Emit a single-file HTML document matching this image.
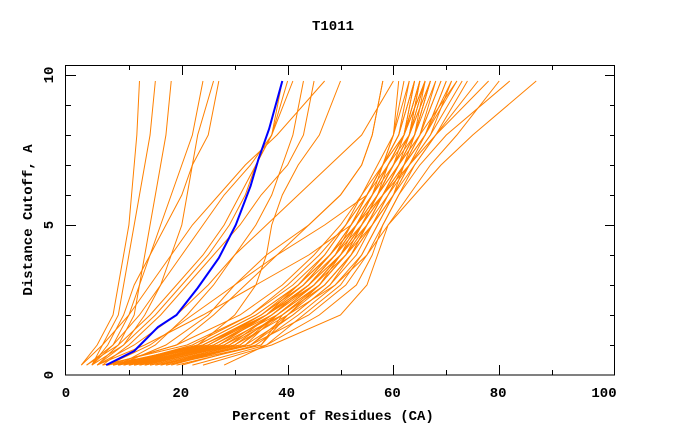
<!DOCTYPE html>
<html><head><meta charset="utf-8"><style>
body{margin:0;background:#fff}
svg{display:block}
text{font-family:"Liberation Mono",monospace;font-weight:bold;font-size:14px;fill:#000}
</style></head><body>
<svg id="chart" width="680" height="440" xmlns="http://www.w3.org/2000/svg">
<text x="333" y="30" text-anchor="middle">T1011</text>
<text x="333" y="420" text-anchor="middle">Percent of Residues (CA)</text>
<text transform="translate(32,220) rotate(-90)" text-anchor="middle">Distance Cutoff, A</text>
<g id="plot"></g>
</svg>
<script>
const yLevels=[0.33,1,2,3,4,5,6,7,8,9.8];
const clusterSeries=[
[6,24,36,44,49,53,56,59,62,65],[8,26,37,45,50,54,57,60,63,66],[10,27,38,46,51,55,58,61,64,67],
[13,29,39,47,52,55,58,61,63,65],[7,25,35,43,48,52,55,58,61,64],[16,30,40,47,52,56,59,62,65,68],
[18,32,41,48,53,56,60,63,66,70],[12,28,37,44,49,53,57,61,65,72],[9,23,34,42,48,52,56,60,64,68],
[14,31,38,45,50,54,58,62,66,71],[5,21,33,41,47,51,55,58,62,66],[20,34,42,49,54,57,60,62,64,66],
[11,26,36,45,51,56,60,64,68,74],[15,33,44,51,55,58,61,64,68,78],[22,36,46,53,56,58,61,65,70,82],
[24,37,50,55,57,59,64,69,75,87],[17,35,40,49,55,59,63,67,72,80],[10,24,35,43,49,54,58,62,66,70],
[8,22,33,40,46,51,55,59,63,67],[19,35,39,46,51,55,58,61,64,67],[7,23,34,42,48,53,57,61,65,69],
[13,29,37,44,50,54,58,62,66,72],[6,19,31,39,45,50,54,58,62,66],[12,27,36,42,48,53,58,63,68,76],
[28,36,43,50,54,57,60,63,67,73],[9,25,36,44,50,55,59,63,67,71],[11,28,39,47,52,56,59,62,65,69],
[8,25,35,42,47,51,54,57,60,63],[10,28,37,44,49,52,55,58,61,63],[12,30,38,45,50,53,56,59,62,64],
[14,31,39,46,50,54,57,60,62,65],[9,27,36,43,48,52,55,58,61,64],[16,33,40,46,51,54,57,60,63,65],
[11,29,37,44,49,53,56,59,62,66],[7,24,35,43,48,52,56,59,62,65],[15,32,38,45,50,54,57,59,62,64],
[13,30,38,46,51,54,57,60,63,66],[17,33,41,48,52,55,58,61,64,67],[10,26,36,44,49,53,57,60,63,67]
];
const sparseSeries=[
[2,7,12,16,20,24,28,33,37,41],[3,6,9,11,14,17,20,22,25,27],[1,4,7,8,9,10,10.5,11,11.5,12],
[3,5,8,9,10,11,12,13,14,15],[4,8,11,12,13,14,15,16,17,18],[3,9,15,20,25,29,32,34,37,40],
[4,11,19,25,30,34,37,39,41,43],[2,8,14,19,24,28,31,34,37,39],[5,10,16,21,26,31,35,40,43,45],
[3,7,10,12,14,16,18,20,22,24],[4,9,13,16,18,20,21,22,23,26],[1,5,10,14,18,22,27,32,38,47],
[8,17,25,30,36,44,50,54,56,58],[10,23,30,34,36,37,39,42,46,50],[6,19,26,32,38,44,50,54,56,58],
[6,14,22,30,38,47,55,58,60,62],[4,13,24,34,44,52,56,58,60,61],[8,15,21,26,30,36,42,48,54,60]
];
const blueX=[5.7,11,15.5,19,23,27,30.2,33,34.5,36.5,39];
const blueY=[0.33,0.8,1.6,2,2.9,3.9,5,6.3,7.2,8.2,9.8];
const xTicks=[0,20,40,60,80,100];
const yTicks=[0,5,10];

const NS='http://www.w3.org/2000/svg';
const X0=76,XS=5.29,Y0=375,YS=30;
function xs(v){return X0+XS*v;}
function ys(v){return Y0-YS*v;}
const g=document.getElementById('plot');
function mk(tag,attrs){const e=document.createElementNS(NS,tag);for(const k in attrs)e.setAttribute(k,attrs[k]);g.appendChild(e);return e;}

const allS=clusterSeries.concat(sparseSeries);
allS.forEach((s,i)=>{
  const p=mk('polyline',{points:s.map((v,j)=>xs(v)+','+ys(yLevels[j])).join(' '),fill:'none',stroke:'#ff8000','stroke-width':1});
  
  
});
const b=mk('polyline',{points:blueX.map((v,j)=>xs(v)+','+ys(blueY[j])).join(' '),fill:'none',stroke:'#0000ff','stroke-width':2});



const fr=mk('rect',{x:65.5,y:65.5,width:549,height:309.5,fill:'none',stroke:'#000','stroke-width':1});



for(let v=10;v<100;v+=10){
  const x=Math.round(xs(v))+0.5;
  const len=(v%20===0)?10:5;
  const t1=mk('line',{x1:x,y1:375,x2:x,y2:375-len,stroke:'#000'});
  
  
  const t2=mk('line',{x1:x,y1:65,x2:x,y2:65+len,stroke:'#000'});
  
  
}
xTicks.forEach(v=>{
  const t=mk('text',{x:(v===0?66:xs(v)-1),y:397,'text-anchor':'middle'});
  t.textContent=v;
  
  
});
for(let v=1;v<=10;v++){
  const y=Math.round(ys(v))+0.5;
  const len=(v%5===0)?10:5;
  const t1=mk('line',{x1:66,y1:y,x2:66+len,y2:y,stroke:'#000'});
  
  
  const t2=mk('line',{x1:615,y1:y,x2:615-len,y2:y,stroke:'#000'});
  
  
}
yTicks.forEach(v=>{
  const t=mk('text',{transform:'translate(53,'+ys(v)+') rotate(-90)','text-anchor':'middle'});
  t.textContent=v;
  
  
});
</script>
</body></html>
